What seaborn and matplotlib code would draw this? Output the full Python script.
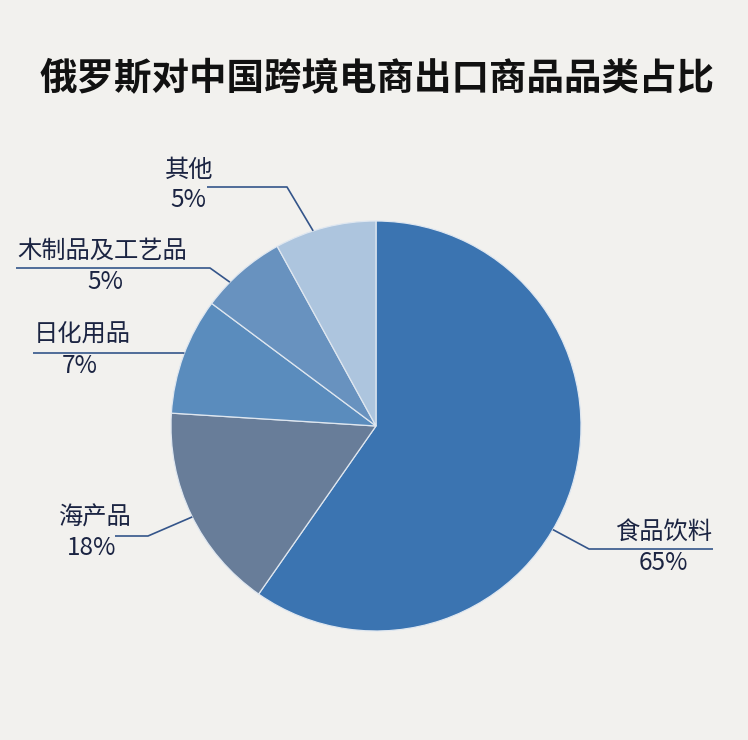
import numpy as np
import matplotlib
matplotlib.use('Agg')
import matplotlib.pyplot as plt
import seaborn as sns

# data
categories = ['食品饮料', '海产品', '日化用品', '木制品及工艺品', '其他']
pct_labels = [65, 18, 7, 5, 5]
# slice sizes as drawn in the picture (degrees of arc / 3.6)
shares = [59.7, 16.3, 9.2, 6.8, 8.0]
colors = ['#3b74b1', '#687d99', '#5a8cbd', '#6892bf', '#adc5de']

sns.set_theme(style='white')
plt.rcParams['font.family'] = ['Noto Sans CJK SC', 'DejaVu Sans']

bg = '#f2f1ee'
text_col = '#1b2442'
line_col = '#34558a'

W, H = 748, 740
cx, cy, R = 376, 426, 205   # pie centre and radius in pixels

fig = plt.figure(figsize=(W / 100, H / 100), dpi=100, facecolor=bg)
ax = fig.add_axes([(cx - R) / W, (H - cy - R) / H, 2 * R / W, 2 * R / H])
ax.set_facecolor(bg)

wedges, _ = ax.pie(shares, colors=colors, startangle=90, counterclock=False,
                   radius=1, wedgeprops=dict(edgecolor='#dfe7f0', linewidth=0.9))
ax.set_xlim(-1, 1)
ax.set_ylim(-1, 1)
ax.axis('off')


def px(x, y):
    return (x - cx) / R, (cy - y) / R


# label layout: where along the wedge the leader starts, elbow, end, name and pct centres (pixels)
layout = {
    '食品饮料': dict(frac=0.56, elbow=(589, 549), end=(713, 549), name=(664, 532), pct=(663, 563)),
    '海产品': dict(frac=0.49, elbow=(148, 536), end=(115, 536), name=(94, 518), pct=(92, 548)),
    '日化用品': dict(frac=0.52, elbow=(183, 353), end=(33, 353), name=(82, 335), pct=(80, 366)),
    '木制品及工艺品': dict(frac=0.32, elbow=(210, 268), end=(16, 268), name=(102, 251), pct=(105, 282)),
    '其他': dict(frac=0.38, elbow=(287, 187), end=(207, 187), name=(189, 170), pct=(188, 200)),
}

for w, cat, p in zip(wedges, categories, pct_labels):
    lay = layout[cat]
    ang = np.deg2rad(w.theta2 - lay['frac'] * (w.theta2 - w.theta1))
    a = (np.cos(ang), np.sin(ang))
    e1 = px(*lay['elbow'])
    e2 = px(*lay['end'])
    ax.plot([a[0], e1[0], e2[0]], [a[1], e1[1], e2[1]], color=line_col,
            lw=1.2, clip_on=False, solid_capstyle='butt')
    nx, ny = px(*lay['name'])
    ax.text(nx, ny, cat, ha='center', va='center', fontsize=17.5, color=text_col,
            fontweight='medium')
    qx, qy = px(*lay['pct'])
    ax.text(qx, qy, f'{p}%', ha='center', va='center', fontsize=17.5, color=text_col,
            fontweight='medium')

fig.text(377 / W, 1 - 79 / H, '俄罗斯对中国跨境电商出口商品品类占比', ha='center', va='center',
         fontsize=27, fontweight='bold', color='#111111')

fig.savefig('out.png', dpi=100, facecolor=bg)
